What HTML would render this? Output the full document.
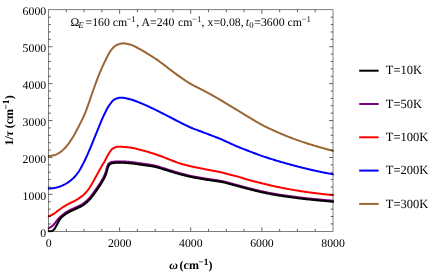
<!DOCTYPE html>
<html><head><meta charset="utf-8"><style>
html,body{margin:0;padding:0;background:#fff;}
svg{display:block;will-change:transform;}
text{font-family:"Liberation Serif";fill:#000;text-rendering:geometricPrecision;}
</style></head><body>
<svg width="436" height="273" viewBox="0 0 436 273">
<defs><filter id="nf" x="0" y="0" width="436" height="273" filterUnits="userSpaceOnUse"><feOffset dx="0" dy="0"/></filter></defs>
<rect width="436" height="273" fill="#fff"/>
<clipPath id="c"><rect x="47.7" y="9.8" width="286.10" height="222.70"/></clipPath>
<g clip-path="url(#c)" fill="none" stroke-linejoin="round" stroke-linecap="square">
<path d="M48.50,228.13 L49.21,227.88 L49.93,227.55 L50.64,227.14 L51.35,226.68 L52.07,226.18 L52.78,225.55 L53.49,224.80 L54.20,224.00 L54.92,223.16 L55.63,222.23 L56.34,221.28 L57.06,220.38 L57.77,219.53 L58.48,218.71 L59.20,217.93 L59.91,217.23 L60.62,216.59 L61.33,215.99 L62.05,215.40 L62.76,214.81 L63.47,214.20 L64.19,213.60 L64.90,213.04 L65.61,212.55 L66.33,212.12 L67.04,211.73 L67.75,211.30 L68.46,210.89 L69.18,210.51 L69.89,210.15 L70.60,209.82 L71.32,209.49 L72.03,209.18 L72.74,208.86 L73.46,208.55 L74.17,208.23 L74.88,207.90 L75.60,207.56 L76.31,207.23 L77.02,206.90 L77.73,206.57 L78.45,206.24 L79.16,205.89 L79.87,205.53 L80.59,205.15 L81.30,204.74 L82.01,204.31 L82.73,203.84 L83.44,203.35 L84.15,202.82 L84.86,202.27 L85.58,201.69 L86.29,201.09 L87.00,200.45 L87.72,199.79 L88.43,199.09 L89.14,198.33 L89.86,197.50 L90.57,196.63 L91.28,195.72 L91.99,194.78 L92.71,193.84 L93.42,192.90 L94.13,191.95 L94.85,190.96 L95.56,189.96 L96.27,188.93 L96.99,187.89 L97.70,186.83 L98.41,185.77 L99.13,184.68 L99.84,183.57 L100.55,182.44 L101.26,181.26 L101.98,180.06 L102.69,178.82 L103.40,177.51 L104.12,176.08 L104.83,174.51 L105.54,172.73 L106.26,170.43 L106.97,167.47 L107.68,165.52 L108.39,164.07 L109.11,163.26 L109.82,162.77 L110.53,162.40 L111.25,162.14 L111.96,161.99 L112.67,161.89 L113.39,161.80 L114.10,161.72 L114.81,161.65 L115.53,161.59 L116.24,161.54 L116.95,161.50 L117.66,161.46 L118.38,161.44 L119.09,161.43 L119.80,161.43 L120.52,161.43 L121.23,161.44 L121.94,161.46 L122.66,161.48 L123.37,161.51 L124.08,161.55 L124.79,161.60 L125.51,161.65 L126.22,161.70 L126.93,161.76 L127.65,161.81 L128.36,161.87 L129.07,161.92 L129.79,161.98 L130.50,162.04 L131.21,162.11 L131.92,162.19 L132.64,162.27 L133.35,162.36 L134.06,162.46 L134.78,162.56 L135.49,162.66 L136.20,162.76 L136.92,162.87 L137.63,162.98 L138.34,163.09 L139.06,163.19 L139.77,163.30 L140.48,163.40 L141.19,163.50 L141.91,163.60 L142.62,163.70 L143.33,163.80 L144.05,163.90 L144.76,163.99 L145.47,164.09 L146.19,164.19 L146.90,164.30 L147.61,164.40 L148.32,164.51 L149.04,164.62 L149.75,164.73 L150.46,164.84 L151.18,164.96 L151.89,165.09 L152.60,165.22 L153.32,165.35 L154.03,165.49 L154.74,165.64 L155.45,165.80 L156.17,165.98 L156.88,166.18 L157.59,166.38 L158.31,166.59 L159.02,166.81 L159.73,167.04 L160.45,167.26 L161.16,167.48 L161.87,167.69 L162.59,167.91 L163.30,168.13 L164.01,168.35 L164.72,168.58 L165.44,168.81 L166.15,169.03 L166.86,169.26 L167.58,169.49 L168.29,169.72 L169.00,169.94 L169.72,170.16 L170.43,170.38 L171.14,170.61 L171.85,170.83 L172.57,171.05 L173.28,171.27 L173.99,171.49 L174.71,171.71 L175.42,171.92 L176.13,172.14 L176.85,172.35 L177.56,172.55 L178.27,172.76 L178.98,172.96 L179.70,173.15 L180.41,173.35 L181.12,173.54 L181.84,173.73 L182.55,173.91 L183.26,174.10 L183.98,174.28 L184.69,174.46 L185.40,174.64 L186.12,174.82 L186.83,174.99 L187.54,175.16 L188.25,175.33 L188.97,175.49 L189.68,175.65 L190.39,175.81 L191.11,175.96 L191.82,176.12 L192.53,176.27 L193.25,176.41 L193.96,176.56 L194.67,176.70 L195.38,176.84 L196.10,176.98 L196.81,177.12 L197.52,177.26 L198.24,177.39 L198.95,177.51 L199.66,177.64 L200.38,177.76 L201.09,177.89 L201.80,178.01 L202.52,178.13 L203.23,178.24 L203.94,178.36 L204.65,178.47 L205.37,178.58 L206.08,178.69 L206.79,178.80 L207.51,178.91 L208.22,179.02 L208.93,179.12 L209.65,179.23 L210.36,179.34 L211.07,179.45 L211.78,179.55 L212.50,179.66 L213.21,179.76 L213.92,179.86 L214.64,179.96 L215.35,180.06 L216.06,180.16 L216.78,180.26 L217.49,180.36 L218.20,180.47 L218.91,180.58 L219.63,180.69 L220.34,180.81 L221.05,180.94 L221.77,181.07 L222.48,181.22 L223.19,181.37 L223.91,181.54 L224.62,181.71 L225.33,181.89 L226.05,182.09 L226.76,182.28 L227.47,182.48 L228.18,182.67 L228.90,182.86 L229.61,183.05 L230.32,183.24 L231.04,183.43 L231.75,183.62 L232.46,183.82 L233.18,184.01 L233.89,184.20 L234.60,184.39 L235.31,184.58 L236.03,184.78 L236.74,184.97 L237.45,185.16 L238.17,185.36 L238.88,185.55 L239.59,185.75 L240.31,185.94 L241.02,186.14 L241.73,186.33 L242.44,186.53 L243.16,186.72 L243.87,186.92 L244.58,187.11 L245.30,187.30 L246.01,187.49 L246.72,187.67 L247.44,187.86 L248.15,188.04 L248.86,188.22 L249.58,188.41 L250.29,188.59 L251.00,188.77 L251.71,188.95 L252.43,189.13 L253.14,189.31 L253.85,189.49 L254.57,189.67 L255.28,189.84 L255.99,190.01 L256.71,190.19 L257.42,190.36 L258.13,190.52 L258.84,190.69 L259.56,190.85 L260.27,191.01 L260.98,191.17 L261.70,191.33 L262.41,191.48 L263.12,191.64 L263.84,191.79 L264.55,191.94 L265.26,192.09 L265.97,192.24 L266.69,192.39 L267.40,192.53 L268.11,192.68 L268.83,192.82 L269.54,192.96 L270.25,193.10 L270.97,193.23 L271.68,193.37 L272.39,193.50 L273.11,193.63 L273.82,193.76 L274.53,193.88 L275.24,194.01 L275.96,194.13 L276.67,194.25 L277.38,194.36 L278.10,194.48 L278.81,194.59 L279.52,194.70 L280.24,194.81 L280.95,194.92 L281.66,195.03 L282.37,195.13 L283.09,195.23 L283.80,195.34 L284.51,195.44 L285.23,195.54 L285.94,195.64 L286.65,195.74 L287.37,195.84 L288.08,195.94 L288.79,196.04 L289.51,196.13 L290.22,196.23 L290.93,196.33 L291.64,196.43 L292.36,196.52 L293.07,196.62 L293.78,196.71 L294.50,196.81 L295.21,196.90 L295.92,197.00 L296.64,197.09 L297.35,197.18 L298.06,197.27 L298.77,197.36 L299.49,197.45 L300.20,197.54 L300.91,197.63 L301.63,197.71 L302.34,197.80 L303.05,197.88 L303.77,197.96 L304.48,198.04 L305.19,198.12 L305.90,198.20 L306.62,198.28 L307.33,198.35 L308.04,198.43 L308.76,198.50 L309.47,198.57 L310.18,198.65 L310.90,198.72 L311.61,198.79 L312.32,198.86 L313.04,198.93 L313.75,199.00 L314.46,199.07 L315.17,199.14 L315.89,199.21 L316.60,199.28 L317.31,199.35 L318.03,199.42 L318.74,199.48 L319.45,199.55 L320.17,199.62 L320.88,199.69 L321.59,199.76 L322.30,199.82 L323.02,199.89 L323.73,199.95 L324.44,200.02 L325.16,200.09 L325.87,200.15 L326.58,200.22 L327.30,200.28 L328.01,200.34 L328.72,200.41 L329.43,200.47 L330.15,200.53 L330.86,200.60 L331.57,200.66 L332.29,200.72 L333.00,200.73" stroke="#800080" stroke-width="2.1"/>
<path d="M48.50,231.30 L49.21,231.30 L49.93,231.30 L50.64,231.30 L51.35,231.25 L52.07,231.00 L52.78,230.60 L53.49,230.03 L54.20,229.28 L54.92,228.28 L55.63,226.97 L56.34,225.69 L57.06,224.38 L57.77,223.05 L58.48,221.73 L59.20,220.44 L59.91,219.31 L60.62,218.32 L61.33,217.53 L62.05,216.89 L62.76,216.29 L63.47,215.68 L64.19,215.11 L64.90,214.59 L65.61,214.11 L66.33,213.66 L67.04,213.22 L67.75,212.79 L68.46,212.36 L69.18,211.95 L69.89,211.58 L70.60,211.23 L71.32,210.90 L72.03,210.57 L72.74,210.26 L73.46,209.94 L74.17,209.63 L74.88,209.31 L75.60,208.98 L76.31,208.64 L77.02,208.31 L77.73,207.98 L78.45,207.65 L79.16,207.31 L79.87,206.97 L80.59,206.60 L81.30,206.21 L82.01,205.80 L82.73,205.36 L83.44,204.89 L84.15,204.39 L84.86,203.86 L85.58,203.30 L86.29,202.72 L87.00,202.11 L87.72,201.47 L88.43,200.80 L89.14,200.09 L89.86,199.31 L90.57,198.47 L91.28,197.59 L91.99,196.67 L92.71,195.74 L93.42,194.80 L94.13,193.86 L94.85,192.89 L95.56,191.90 L96.27,190.89 L96.99,189.86 L97.70,188.82 L98.41,187.76 L99.13,186.69 L99.84,185.61 L100.55,184.49 L101.26,183.35 L101.98,182.16 L102.69,180.96 L103.40,179.71 L104.12,178.38 L104.83,176.92 L105.54,175.32 L106.26,173.48 L106.97,170.97 L107.68,168.12 L108.39,166.33 L109.11,164.99 L109.82,164.30 L110.53,163.83 L111.25,163.48 L111.96,163.24 L112.67,163.11 L113.39,163.01 L114.10,162.92 L114.81,162.85 L115.53,162.78 L116.24,162.72 L116.95,162.68 L117.66,162.65 L118.38,162.64 L119.09,162.64 L119.80,162.64 L120.52,162.66 L121.23,162.68 L121.94,162.70 L122.66,162.73 L123.37,162.77 L124.08,162.81 L124.79,162.85 L125.51,162.90 L126.22,162.95 L126.93,163.00 L127.65,163.06 L128.36,163.11 L129.07,163.17 L129.79,163.22 L130.50,163.28 L131.21,163.34 L131.92,163.41 L132.64,163.49 L133.35,163.57 L134.06,163.66 L134.78,163.76 L135.49,163.86 L136.20,163.96 L136.92,164.07 L137.63,164.17 L138.34,164.28 L139.06,164.39 L139.77,164.49 L140.48,164.60 L141.19,164.70 L141.91,164.80 L142.62,164.90 L143.33,164.99 L144.05,165.09 L144.76,165.19 L145.47,165.29 L146.19,165.39 L146.90,165.49 L147.61,165.59 L148.32,165.69 L149.04,165.80 L149.75,165.91 L150.46,166.02 L151.18,166.14 L151.89,166.26 L152.60,166.38 L153.32,166.51 L154.03,166.65 L154.74,166.79 L155.45,166.94 L156.17,167.10 L156.88,167.28 L157.59,167.48 L158.31,167.69 L159.02,167.90 L159.73,168.12 L160.45,168.34 L161.16,168.56 L161.87,168.78 L162.59,169.00 L163.30,169.21 L164.01,169.43 L164.72,169.66 L165.44,169.88 L166.15,170.11 L166.86,170.33 L167.58,170.56 L168.29,170.78 L169.00,171.00 L169.72,171.22 L170.43,171.43 L171.14,171.65 L171.85,171.87 L172.57,172.09 L173.28,172.30 L173.99,172.52 L174.71,172.73 L175.42,172.95 L176.13,173.16 L176.85,173.36 L177.56,173.57 L178.27,173.77 L178.98,173.97 L179.70,174.16 L180.41,174.35 L181.12,174.54 L181.84,174.72 L182.55,174.91 L183.26,175.09 L183.98,175.27 L184.69,175.45 L185.40,175.62 L186.12,175.80 L186.83,175.96 L187.54,176.13 L188.25,176.30 L188.97,176.46 L189.68,176.62 L190.39,176.77 L191.11,176.92 L191.82,177.07 L192.53,177.22 L193.25,177.36 L193.96,177.51 L194.67,177.65 L195.38,177.79 L196.10,177.92 L196.81,178.06 L197.52,178.19 L198.24,178.32 L198.95,178.45 L199.66,178.57 L200.38,178.70 L201.09,178.82 L201.80,178.94 L202.52,179.06 L203.23,179.18 L203.94,179.30 L204.65,179.41 L205.37,179.52 L206.08,179.63 L206.79,179.74 L207.51,179.85 L208.22,179.96 L208.93,180.07 L209.65,180.17 L210.36,180.28 L211.07,180.39 L211.78,180.49 L212.50,180.60 L213.21,180.71 L213.92,180.81 L214.64,180.91 L215.35,181.00 L216.06,181.10 L216.78,181.20 L217.49,181.30 L218.20,181.40 L218.91,181.51 L219.63,181.62 L220.34,181.74 L221.05,181.86 L221.77,181.98 L222.48,182.12 L223.19,182.27 L223.91,182.43 L224.62,182.59 L225.33,182.76 L226.05,182.95 L226.76,183.14 L227.47,183.34 L228.18,183.53 L228.90,183.72 L229.61,183.91 L230.32,184.10 L231.04,184.30 L231.75,184.49 L232.46,184.68 L233.18,184.87 L233.89,185.06 L234.60,185.25 L235.31,185.44 L236.03,185.64 L236.74,185.83 L237.45,186.02 L238.17,186.21 L238.88,186.41 L239.59,186.60 L240.31,186.80 L241.02,186.99 L241.73,187.19 L242.44,187.38 L243.16,187.58 L243.87,187.77 L244.58,187.96 L245.30,188.16 L246.01,188.34 L246.72,188.53 L247.44,188.72 L248.15,188.90 L248.86,189.08 L249.58,189.27 L250.29,189.45 L251.00,189.63 L251.71,189.81 L252.43,189.99 L253.14,190.17 L253.85,190.35 L254.57,190.53 L255.28,190.70 L255.99,190.88 L256.71,191.05 L257.42,191.22 L258.13,191.39 L258.84,191.56 L259.56,191.72 L260.27,191.89 L260.98,192.05 L261.70,192.20 L262.41,192.36 L263.12,192.51 L263.84,192.67 L264.55,192.82 L265.26,192.97 L265.97,193.12 L266.69,193.27 L267.40,193.41 L268.11,193.56 L268.83,193.70 L269.54,193.84 L270.25,193.98 L270.97,194.12 L271.68,194.25 L272.39,194.39 L273.11,194.52 L273.82,194.65 L274.53,194.78 L275.24,194.90 L275.96,195.02 L276.67,195.14 L277.38,195.26 L278.10,195.38 L278.81,195.49 L279.52,195.60 L280.24,195.71 L280.95,195.82 L281.66,195.93 L282.37,196.03 L283.09,196.14 L283.80,196.24 L284.51,196.34 L285.23,196.45 L285.94,196.55 L286.65,196.65 L287.37,196.75 L288.08,196.84 L288.79,196.94 L289.51,197.04 L290.22,197.14 L290.93,197.23 L291.64,197.33 L292.36,197.43 L293.07,197.52 L293.78,197.62 L294.50,197.72 L295.21,197.81 L295.92,197.90 L296.64,198.00 L297.35,198.09 L298.06,198.18 L298.77,198.27 L299.49,198.36 L300.20,198.45 L300.91,198.53 L301.63,198.62 L302.34,198.71 L303.05,198.79 L303.77,198.87 L304.48,198.95 L305.19,199.03 L305.90,199.11 L306.62,199.19 L307.33,199.27 L308.04,199.34 L308.76,199.42 L309.47,199.49 L310.18,199.56 L310.90,199.63 L311.61,199.71 L312.32,199.78 L313.04,199.85 L313.75,199.92 L314.46,199.99 L315.17,200.06 L315.89,200.12 L316.60,200.19 L317.31,200.26 L318.03,200.33 L318.74,200.40 L319.45,200.47 L320.17,200.53 L320.88,200.60 L321.59,200.67 L322.30,200.73 L323.02,200.80 L323.73,200.87 L324.44,200.93 L325.16,201.00 L325.87,201.06 L326.58,201.13 L327.30,201.19 L328.01,201.26 L328.72,201.32 L329.43,201.38 L330.15,201.45 L330.86,201.51 L331.57,201.57 L332.29,201.63 L333.00,201.69" stroke="#000000" stroke-width="2.1"/>
<path d="M48.50,216.31 L49.21,216.05 L49.93,215.76 L50.64,215.45 L51.35,215.11 L52.07,214.75 L52.78,214.36 L53.49,213.96 L54.20,213.54 L54.92,213.06 L55.63,212.53 L56.34,211.98 L57.06,211.40 L57.77,210.82 L58.48,210.26 L59.20,209.73 L59.91,209.22 L60.62,208.73 L61.33,208.24 L62.05,207.76 L62.76,207.29 L63.47,206.83 L64.19,206.39 L64.90,205.96 L65.61,205.54 L66.33,205.14 L67.04,204.74 L67.75,204.35 L68.46,203.97 L69.18,203.59 L69.89,203.22 L70.60,202.85 L71.32,202.51 L72.03,202.17 L72.74,201.83 L73.46,201.49 L74.17,201.14 L74.88,200.78 L75.60,200.39 L76.31,199.98 L77.02,199.56 L77.73,199.11 L78.45,198.65 L79.16,198.18 L79.87,197.69 L80.59,197.17 L81.30,196.64 L82.01,196.09 L82.73,195.52 L83.44,194.90 L84.15,194.24 L84.86,193.55 L85.58,192.81 L86.29,192.02 L87.00,191.18 L87.72,190.28 L88.43,189.33 L89.14,188.33 L89.86,187.24 L90.57,186.09 L91.28,184.90 L91.99,183.70 L92.71,182.45 L93.42,181.18 L94.13,179.88 L94.85,178.60 L95.56,177.30 L96.27,175.99 L96.99,174.68 L97.70,173.37 L98.41,172.06 L99.13,170.77 L99.84,169.50 L100.55,168.25 L101.26,167.03 L101.98,165.82 L102.69,164.61 L103.40,163.39 L104.12,162.16 L104.83,160.91 L105.54,159.58 L106.26,158.19 L106.97,156.79 L107.68,155.43 L108.39,154.16 L109.11,153.01 L109.82,152.00 L110.53,150.99 L111.25,150.04 L111.96,149.21 L112.67,148.56 L113.39,148.14 L114.10,147.81 L114.81,147.51 L115.53,147.25 L116.24,147.02 L116.95,146.86 L117.66,146.76 L118.38,146.72 L119.09,146.73 L119.80,146.74 L120.52,146.76 L121.23,146.79 L121.94,146.83 L122.66,146.87 L123.37,146.92 L124.08,146.97 L124.79,147.02 L125.51,147.09 L126.22,147.15 L126.93,147.22 L127.65,147.29 L128.36,147.37 L129.07,147.44 L129.79,147.52 L130.50,147.60 L131.21,147.69 L131.92,147.80 L132.64,147.93 L133.35,148.07 L134.06,148.22 L134.78,148.39 L135.49,148.56 L136.20,148.74 L136.92,148.93 L137.63,149.12 L138.34,149.31 L139.06,149.51 L139.77,149.70 L140.48,149.89 L141.19,150.07 L141.91,150.25 L142.62,150.44 L143.33,150.63 L144.05,150.82 L144.76,151.02 L145.47,151.21 L146.19,151.41 L146.90,151.62 L147.61,151.82 L148.32,152.03 L149.04,152.24 L149.75,152.45 L150.46,152.67 L151.18,152.88 L151.89,153.10 L152.60,153.32 L153.32,153.55 L154.03,153.77 L154.74,154.00 L155.45,154.23 L156.17,154.47 L156.88,154.70 L157.59,154.95 L158.31,155.20 L159.02,155.45 L159.73,155.71 L160.45,155.97 L161.16,156.23 L161.87,156.49 L162.59,156.76 L163.30,157.04 L164.01,157.32 L164.72,157.61 L165.44,157.90 L166.15,158.19 L166.86,158.48 L167.58,158.77 L168.29,159.06 L169.00,159.34 L169.72,159.61 L170.43,159.89 L171.14,160.17 L171.85,160.45 L172.57,160.73 L173.28,161.01 L173.99,161.29 L174.71,161.56 L175.42,161.83 L176.13,162.10 L176.85,162.36 L177.56,162.61 L178.27,162.86 L178.98,163.10 L179.70,163.33 L180.41,163.55 L181.12,163.76 L181.84,163.97 L182.55,164.17 L183.26,164.37 L183.98,164.57 L184.69,164.76 L185.40,164.95 L186.12,165.13 L186.83,165.31 L187.54,165.49 L188.25,165.66 L188.97,165.83 L189.68,166.00 L190.39,166.17 L191.11,166.34 L191.82,166.50 L192.53,166.65 L193.25,166.81 L193.96,166.96 L194.67,167.11 L195.38,167.26 L196.10,167.40 L196.81,167.55 L197.52,167.69 L198.24,167.83 L198.95,167.97 L199.66,168.12 L200.38,168.26 L201.09,168.40 L201.80,168.55 L202.52,168.69 L203.23,168.83 L203.94,168.97 L204.65,169.12 L205.37,169.26 L206.08,169.40 L206.79,169.54 L207.51,169.68 L208.22,169.82 L208.93,169.96 L209.65,170.10 L210.36,170.24 L211.07,170.37 L211.78,170.51 L212.50,170.65 L213.21,170.79 L213.92,170.92 L214.64,171.05 L215.35,171.17 L216.06,171.30 L216.78,171.43 L217.49,171.56 L218.20,171.70 L218.91,171.83 L219.63,171.98 L220.34,172.12 L221.05,172.28 L221.77,172.45 L222.48,172.63 L223.19,172.82 L223.91,173.02 L224.62,173.22 L225.33,173.41 L226.05,173.61 L226.76,173.81 L227.47,174.00 L228.18,174.19 L228.90,174.38 L229.61,174.56 L230.32,174.74 L231.04,174.91 L231.75,175.08 L232.46,175.25 L233.18,175.41 L233.89,175.58 L234.60,175.76 L235.31,175.93 L236.03,176.12 L236.74,176.30 L237.45,176.50 L238.17,176.70 L238.88,176.91 L239.59,177.13 L240.31,177.34 L241.02,177.57 L241.73,177.79 L242.44,178.02 L243.16,178.25 L243.87,178.47 L244.58,178.70 L245.30,178.92 L246.01,179.14 L246.72,179.35 L247.44,179.56 L248.15,179.76 L248.86,179.95 L249.58,180.15 L250.29,180.34 L251.00,180.54 L251.71,180.73 L252.43,180.92 L253.14,181.10 L253.85,181.29 L254.57,181.47 L255.28,181.66 L255.99,181.84 L256.71,182.02 L257.42,182.20 L258.13,182.38 L258.84,182.56 L259.56,182.74 L260.27,182.91 L260.98,183.09 L261.70,183.26 L262.41,183.44 L263.12,183.61 L263.84,183.79 L264.55,183.96 L265.26,184.14 L265.97,184.31 L266.69,184.48 L267.40,184.65 L268.11,184.82 L268.83,184.99 L269.54,185.16 L270.25,185.33 L270.97,185.49 L271.68,185.65 L272.39,185.82 L273.11,185.98 L273.82,186.14 L274.53,186.29 L275.24,186.45 L275.96,186.60 L276.67,186.75 L277.38,186.90 L278.10,187.05 L278.81,187.20 L279.52,187.34 L280.24,187.49 L280.95,187.63 L281.66,187.77 L282.37,187.91 L283.09,188.05 L283.80,188.19 L284.51,188.33 L285.23,188.46 L285.94,188.60 L286.65,188.73 L287.37,188.86 L288.08,188.99 L288.79,189.12 L289.51,189.25 L290.22,189.38 L290.93,189.51 L291.64,189.63 L292.36,189.76 L293.07,189.88 L293.78,190.01 L294.50,190.13 L295.21,190.25 L295.92,190.37 L296.64,190.49 L297.35,190.61 L298.06,190.72 L298.77,190.84 L299.49,190.95 L300.20,191.07 L300.91,191.18 L301.63,191.29 L302.34,191.40 L303.05,191.51 L303.77,191.61 L304.48,191.72 L305.19,191.82 L305.90,191.92 L306.62,192.02 L307.33,192.12 L308.04,192.21 L308.76,192.31 L309.47,192.41 L310.18,192.50 L310.90,192.59 L311.61,192.69 L312.32,192.78 L313.04,192.87 L313.75,192.96 L314.46,193.05 L315.17,193.13 L315.89,193.22 L316.60,193.31 L317.31,193.39 L318.03,193.48 L318.74,193.57 L319.45,193.65 L320.17,193.74 L320.88,193.82 L321.59,193.90 L322.30,193.99 L323.02,194.07 L323.73,194.15 L324.44,194.23 L325.16,194.31 L325.87,194.39 L326.58,194.47 L327.30,194.55 L328.01,194.63 L328.72,194.71 L329.43,194.78 L330.15,194.86 L330.86,194.94 L331.57,195.01 L332.29,195.09 L333.00,195.16" stroke="#ff0000" stroke-width="2.0"/>
<path d="M48.50,188.48 L49.21,188.47 L49.93,188.43 L50.64,188.38 L51.35,188.32 L52.07,188.25 L52.78,188.16 L53.49,188.08 L54.20,187.98 L54.92,187.86 L55.63,187.71 L56.34,187.54 L57.06,187.34 L57.77,187.14 L58.48,186.92 L59.20,186.70 L59.91,186.46 L60.62,186.20 L61.33,185.93 L62.05,185.63 L62.76,185.32 L63.47,184.98 L64.19,184.63 L64.90,184.27 L65.61,183.89 L66.33,183.48 L67.04,183.05 L67.75,182.58 L68.46,182.10 L69.18,181.58 L69.89,181.04 L70.60,180.48 L71.32,179.89 L72.03,179.27 L72.74,178.63 L73.46,177.94 L74.17,177.22 L74.88,176.45 L75.60,175.65 L76.31,174.81 L77.02,173.92 L77.73,172.99 L78.45,172.01 L79.16,170.93 L79.87,169.74 L80.59,168.48 L81.30,167.17 L82.01,165.84 L82.73,164.51 L83.44,163.14 L84.15,161.73 L84.86,160.27 L85.58,158.77 L86.29,157.22 L87.00,155.65 L87.72,154.04 L88.43,152.41 L89.14,150.76 L89.86,149.10 L90.57,147.42 L91.28,145.71 L91.99,143.98 L92.71,142.22 L93.42,140.45 L94.13,138.67 L94.85,136.89 L95.56,135.12 L96.27,133.36 L96.99,131.61 L97.70,129.87 L98.41,128.09 L99.13,126.31 L99.84,124.52 L100.55,122.76 L101.26,121.03 L101.98,119.35 L102.69,117.74 L103.40,116.20 L104.12,114.73 L104.83,113.26 L105.54,111.83 L106.26,110.43 L106.97,109.08 L107.68,107.80 L108.39,106.60 L109.11,105.50 L109.82,104.49 L110.53,103.53 L111.25,102.58 L111.96,101.68 L112.67,100.87 L113.39,100.19 L114.10,99.65 L114.81,99.29 L115.53,98.98 L116.24,98.68 L116.95,98.41 L117.66,98.17 L118.38,97.97 L119.09,97.81 L119.80,97.69 L120.52,97.63 L121.23,97.63 L121.94,97.66 L122.66,97.72 L123.37,97.80 L124.08,97.91 L124.79,98.03 L125.51,98.17 L126.22,98.33 L126.93,98.49 L127.65,98.67 L128.36,98.84 L129.07,99.02 L129.79,99.20 L130.50,99.37 L131.21,99.56 L131.92,99.76 L132.64,99.98 L133.35,100.22 L134.06,100.47 L134.78,100.72 L135.49,100.99 L136.20,101.27 L136.92,101.55 L137.63,101.84 L138.34,102.13 L139.06,102.42 L139.77,102.71 L140.48,103.00 L141.19,103.29 L141.91,103.58 L142.62,103.88 L143.33,104.18 L144.05,104.49 L144.76,104.80 L145.47,105.11 L146.19,105.43 L146.90,105.75 L147.61,106.08 L148.32,106.40 L149.04,106.74 L149.75,107.07 L150.46,107.40 L151.18,107.74 L151.89,108.08 L152.60,108.42 L153.32,108.76 L154.03,109.10 L154.74,109.45 L155.45,109.79 L156.17,110.14 L156.88,110.49 L157.59,110.85 L158.31,111.21 L159.02,111.57 L159.73,111.93 L160.45,112.30 L161.16,112.66 L161.87,113.02 L162.59,113.38 L163.30,113.75 L164.01,114.11 L164.72,114.47 L165.44,114.83 L166.15,115.19 L166.86,115.56 L167.58,115.92 L168.29,116.28 L169.00,116.65 L169.72,117.01 L170.43,117.38 L171.14,117.75 L171.85,118.13 L172.57,118.50 L173.28,118.87 L173.99,119.25 L174.71,119.62 L175.42,120.00 L176.13,120.37 L176.85,120.74 L177.56,121.11 L178.27,121.48 L178.98,121.84 L179.70,122.20 L180.41,122.56 L181.12,122.92 L181.84,123.28 L182.55,123.64 L183.26,124.00 L183.98,124.36 L184.69,124.72 L185.40,125.07 L186.12,125.42 L186.83,125.77 L187.54,126.11 L188.25,126.45 L188.97,126.78 L189.68,127.10 L190.39,127.41 L191.11,127.72 L191.82,128.01 L192.53,128.30 L193.25,128.58 L193.96,128.86 L194.67,129.13 L195.38,129.40 L196.10,129.66 L196.81,129.92 L197.52,130.18 L198.24,130.44 L198.95,130.71 L199.66,130.97 L200.38,131.23 L201.09,131.50 L201.80,131.77 L202.52,132.04 L203.23,132.31 L203.94,132.58 L204.65,132.85 L205.37,133.12 L206.08,133.39 L206.79,133.66 L207.51,133.93 L208.22,134.21 L208.93,134.48 L209.65,134.75 L210.36,135.02 L211.07,135.29 L211.78,135.57 L212.50,135.84 L213.21,136.12 L213.92,136.39 L214.64,136.66 L215.35,136.93 L216.06,137.20 L216.78,137.47 L217.49,137.74 L218.20,138.02 L218.91,138.30 L219.63,138.59 L220.34,138.88 L221.05,139.18 L221.77,139.49 L222.48,139.82 L223.19,140.15 L223.91,140.49 L224.62,140.82 L225.33,141.14 L226.05,141.47 L226.76,141.79 L227.47,142.11 L228.18,142.43 L228.90,142.76 L229.61,143.08 L230.32,143.41 L231.04,143.74 L231.75,144.06 L232.46,144.39 L233.18,144.71 L233.89,145.04 L234.60,145.36 L235.31,145.67 L236.03,145.98 L236.74,146.29 L237.45,146.59 L238.17,146.89 L238.88,147.18 L239.59,147.47 L240.31,147.75 L241.02,148.04 L241.73,148.32 L242.44,148.60 L243.16,148.87 L243.87,149.15 L244.58,149.42 L245.30,149.70 L246.01,149.97 L246.72,150.24 L247.44,150.52 L248.15,150.79 L248.86,151.07 L249.58,151.34 L250.29,151.62 L251.00,151.89 L251.71,152.16 L252.43,152.44 L253.14,152.71 L253.85,152.98 L254.57,153.25 L255.28,153.52 L255.99,153.79 L256.71,154.06 L257.42,154.32 L258.13,154.58 L258.84,154.84 L259.56,155.10 L260.27,155.35 L260.98,155.61 L261.70,155.85 L262.41,156.10 L263.12,156.34 L263.84,156.59 L264.55,156.83 L265.26,157.07 L265.97,157.30 L266.69,157.54 L267.40,157.77 L268.11,158.00 L268.83,158.23 L269.54,158.46 L270.25,158.69 L270.97,158.91 L271.68,159.13 L272.39,159.36 L273.11,159.58 L273.82,159.80 L274.53,160.02 L275.24,160.23 L275.96,160.45 L276.67,160.67 L277.38,160.88 L278.10,161.09 L278.81,161.30 L279.52,161.51 L280.24,161.72 L280.95,161.93 L281.66,162.13 L282.37,162.34 L283.09,162.54 L283.80,162.75 L284.51,162.95 L285.23,163.15 L285.94,163.35 L286.65,163.55 L287.37,163.74 L288.08,163.94 L288.79,164.14 L289.51,164.33 L290.22,164.53 L290.93,164.72 L291.64,164.91 L292.36,165.10 L293.07,165.30 L293.78,165.49 L294.50,165.68 L295.21,165.87 L295.92,166.05 L296.64,166.24 L297.35,166.43 L298.06,166.61 L298.77,166.80 L299.49,166.98 L300.20,167.16 L300.91,167.34 L301.63,167.52 L302.34,167.70 L303.05,167.88 L303.77,168.05 L304.48,168.23 L305.19,168.40 L305.90,168.57 L306.62,168.75 L307.33,168.92 L308.04,169.09 L308.76,169.25 L309.47,169.42 L310.18,169.59 L310.90,169.75 L311.61,169.92 L312.32,170.08 L313.04,170.24 L313.75,170.40 L314.46,170.56 L315.17,170.72 L315.89,170.88 L316.60,171.03 L317.31,171.18 L318.03,171.34 L318.74,171.49 L319.45,171.64 L320.17,171.79 L320.88,171.93 L321.59,172.08 L322.30,172.22 L323.02,172.37 L323.73,172.51 L324.44,172.65 L325.16,172.79 L325.87,172.93 L326.58,173.07 L327.30,173.21 L328.01,173.35 L328.72,173.48 L329.43,173.61 L330.15,173.75 L330.86,173.88 L331.57,174.01 L332.29,174.14 L333.00,174.26" stroke="#0000ff" stroke-width="2.0"/>
<path d="M48.50,155.99 L49.21,155.97 L49.93,155.92 L50.64,155.84 L51.35,155.73 L52.07,155.61 L52.78,155.47 L53.49,155.32 L54.20,155.17 L54.92,154.96 L55.63,154.69 L56.34,154.39 L57.06,154.04 L57.77,153.67 L58.48,153.27 L59.20,152.85 L59.91,152.41 L60.62,151.91 L61.33,151.36 L62.05,150.76 L62.76,150.12 L63.47,149.44 L64.19,148.73 L64.90,148.00 L65.61,147.24 L66.33,146.46 L67.04,145.62 L67.75,144.73 L68.46,143.79 L69.18,142.81 L69.89,141.79 L70.60,140.74 L71.32,139.67 L72.03,138.57 L72.74,137.44 L73.46,136.25 L74.17,135.01 L74.88,133.73 L75.60,132.42 L76.31,131.07 L77.02,129.71 L77.73,128.33 L78.45,126.94 L79.16,125.55 L79.87,124.16 L80.59,122.75 L81.30,121.33 L82.01,119.88 L82.73,118.39 L83.44,116.86 L84.15,115.27 L84.86,113.63 L85.58,111.90 L86.29,110.07 L87.00,108.16 L87.72,106.17 L88.43,104.13 L89.14,102.06 L89.86,99.96 L90.57,97.86 L91.28,95.77 L91.99,93.71 L92.71,91.70 L93.42,89.72 L94.13,87.74 L94.85,85.74 L95.56,83.76 L96.27,81.80 L96.99,79.87 L97.70,78.00 L98.41,76.18 L99.13,74.43 L99.84,72.70 L100.55,71.01 L101.26,69.35 L101.98,67.72 L102.69,66.14 L103.40,64.59 L104.12,63.08 L104.83,61.62 L105.54,60.19 L106.26,58.73 L106.97,57.29 L107.68,55.87 L108.39,54.50 L109.11,53.20 L109.82,51.99 L110.53,50.90 L111.25,49.94 L111.96,49.10 L112.67,48.30 L113.39,47.54 L114.10,46.84 L114.81,46.23 L115.53,45.70 L116.24,45.29 L116.95,44.97 L117.66,44.66 L118.38,44.38 L119.09,44.11 L119.80,43.88 L120.52,43.68 L121.23,43.52 L121.94,43.41 L122.66,43.36 L123.37,43.37 L124.08,43.41 L124.79,43.48 L125.51,43.58 L126.22,43.70 L126.93,43.84 L127.65,44.00 L128.36,44.17 L129.07,44.34 L129.79,44.52 L130.50,44.70 L131.21,44.91 L131.92,45.15 L132.64,45.42 L133.35,45.72 L134.06,46.04 L134.78,46.38 L135.49,46.74 L136.20,47.12 L136.92,47.50 L137.63,47.89 L138.34,48.29 L139.06,48.69 L139.77,49.09 L140.48,49.48 L141.19,49.87 L141.91,50.26 L142.62,50.67 L143.33,51.09 L144.05,51.52 L144.76,51.96 L145.47,52.40 L146.19,52.85 L146.90,53.29 L147.61,53.74 L148.32,54.18 L149.04,54.62 L149.75,55.06 L150.46,55.50 L151.18,55.95 L151.89,56.39 L152.60,56.85 L153.32,57.30 L154.03,57.76 L154.74,58.23 L155.45,58.71 L156.17,59.19 L156.88,59.69 L157.59,60.18 L158.31,60.69 L159.02,61.20 L159.73,61.71 L160.45,62.23 L161.16,62.75 L161.87,63.27 L162.59,63.80 L163.30,64.33 L164.01,64.88 L164.72,65.42 L165.44,65.97 L166.15,66.53 L166.86,67.08 L167.58,67.64 L168.29,68.19 L169.00,68.74 L169.72,69.28 L170.43,69.83 L171.14,70.37 L171.85,70.91 L172.57,71.45 L173.28,71.99 L173.99,72.53 L174.71,73.07 L175.42,73.59 L176.13,74.12 L176.85,74.64 L177.56,75.15 L178.27,75.66 L178.98,76.17 L179.70,76.68 L180.41,77.18 L181.12,77.68 L181.84,78.17 L182.55,78.65 L183.26,79.14 L183.98,79.61 L184.69,80.09 L185.40,80.56 L186.12,81.04 L186.83,81.50 L187.54,81.96 L188.25,82.42 L188.97,82.86 L189.68,83.30 L190.39,83.72 L191.11,84.13 L191.82,84.53 L192.53,84.92 L193.25,85.31 L193.96,85.68 L194.67,86.05 L195.38,86.41 L196.10,86.77 L196.81,87.13 L197.52,87.49 L198.24,87.84 L198.95,88.20 L199.66,88.56 L200.38,88.92 L201.09,89.29 L201.80,89.67 L202.52,90.04 L203.23,90.42 L203.94,90.79 L204.65,91.16 L205.37,91.54 L206.08,91.91 L206.79,92.29 L207.51,92.67 L208.22,93.05 L208.93,93.43 L209.65,93.81 L210.36,94.20 L211.07,94.59 L211.78,94.98 L212.50,95.38 L213.21,95.78 L213.92,96.19 L214.64,96.60 L215.35,97.01 L216.06,97.42 L216.78,97.84 L217.49,98.26 L218.20,98.68 L218.91,99.10 L219.63,99.53 L220.34,99.95 L221.05,100.37 L221.77,100.80 L222.48,101.23 L223.19,101.66 L223.91,102.09 L224.62,102.52 L225.33,102.95 L226.05,103.39 L226.76,103.82 L227.47,104.26 L228.18,104.69 L228.90,105.12 L229.61,105.55 L230.32,105.98 L231.04,106.41 L231.75,106.83 L232.46,107.26 L233.18,107.68 L233.89,108.10 L234.60,108.53 L235.31,108.95 L236.03,109.38 L236.74,109.81 L237.45,110.24 L238.17,110.67 L238.88,111.11 L239.59,111.55 L240.31,111.99 L241.02,112.43 L241.73,112.87 L242.44,113.31 L243.16,113.75 L243.87,114.19 L244.58,114.63 L245.30,115.06 L246.01,115.50 L246.72,115.93 L247.44,116.36 L248.15,116.79 L248.86,117.22 L249.58,117.65 L250.29,118.08 L251.00,118.51 L251.71,118.94 L252.43,119.37 L253.14,119.80 L253.85,120.23 L254.57,120.65 L255.28,121.08 L255.99,121.50 L256.71,121.91 L257.42,122.33 L258.13,122.74 L258.84,123.14 L259.56,123.54 L260.27,123.93 L260.98,124.32 L261.70,124.70 L262.41,125.08 L263.12,125.45 L263.84,125.81 L264.55,126.18 L265.26,126.53 L265.97,126.89 L266.69,127.24 L267.40,127.59 L268.11,127.94 L268.83,128.28 L269.54,128.62 L270.25,128.95 L270.97,129.29 L271.68,129.62 L272.39,129.95 L273.11,130.28 L273.82,130.60 L274.53,130.92 L275.24,131.24 L275.96,131.56 L276.67,131.88 L277.38,132.19 L278.10,132.51 L278.81,132.82 L279.52,133.13 L280.24,133.43 L280.95,133.74 L281.66,134.04 L282.37,134.34 L283.09,134.64 L283.80,134.93 L284.51,135.23 L285.23,135.52 L285.94,135.81 L286.65,136.09 L287.37,136.38 L288.08,136.66 L288.79,136.94 L289.51,137.22 L290.22,137.49 L290.93,137.76 L291.64,138.03 L292.36,138.30 L293.07,138.57 L293.78,138.83 L294.50,139.09 L295.21,139.36 L295.92,139.61 L296.64,139.87 L297.35,140.12 L298.06,140.38 L298.77,140.63 L299.49,140.88 L300.20,141.12 L300.91,141.37 L301.63,141.61 L302.34,141.85 L303.05,142.09 L303.77,142.33 L304.48,142.57 L305.19,142.80 L305.90,143.03 L306.62,143.26 L307.33,143.49 L308.04,143.72 L308.76,143.94 L309.47,144.16 L310.18,144.39 L310.90,144.61 L311.61,144.82 L312.32,145.04 L313.04,145.26 L313.75,145.47 L314.46,145.68 L315.17,145.89 L315.89,146.10 L316.60,146.31 L317.31,146.52 L318.03,146.73 L318.74,146.94 L319.45,147.14 L320.17,147.34 L320.88,147.55 L321.59,147.75 L322.30,147.95 L323.02,148.15 L323.73,148.35 L324.44,148.55 L325.16,148.74 L325.87,148.94 L326.58,149.13 L327.30,149.32 L328.01,149.52 L328.72,149.71 L329.43,149.89 L330.15,150.08 L330.86,150.27 L331.57,150.45 L332.29,150.64 L333.00,150.82" stroke="#996633" stroke-width="2.0"/>
</g>
<path d="M66.28,231.3 v-2.4 M66.28,9.8 v2.4 M84.06,231.3 v-2.4 M84.06,9.8 v2.4 M101.84,231.3 v-2.4 M101.84,9.8 v2.4 M119.62,231.3 v-4.0 M119.62,9.8 v4.0 M137.41,231.3 v-2.4 M137.41,9.8 v2.4 M155.19,231.3 v-2.4 M155.19,9.8 v2.4 M172.97,231.3 v-2.4 M172.97,9.8 v2.4 M190.75,231.3 v-4.0 M190.75,9.8 v4.0 M208.53,231.3 v-2.4 M208.53,9.8 v2.4 M226.31,231.3 v-2.4 M226.31,9.8 v2.4 M244.09,231.3 v-2.4 M244.09,9.8 v2.4 M261.88,231.3 v-4.0 M261.88,9.8 v4.0 M279.66,231.3 v-2.4 M279.66,9.8 v2.4 M297.44,231.3 v-2.4 M297.44,9.8 v2.4 M315.22,231.3 v-2.4 M315.22,9.8 v2.4 M48.5,223.92 h2.4 M333.0,223.92 h-2.4 M48.5,216.53 h2.4 M333.0,216.53 h-2.4 M48.5,209.15 h2.4 M333.0,209.15 h-2.4 M48.5,201.77 h2.4 M333.0,201.77 h-2.4 M48.5,194.38 h4.0 M333.0,194.38 h-4.0 M48.5,187.00 h2.4 M333.0,187.00 h-2.4 M48.5,179.62 h2.4 M333.0,179.62 h-2.4 M48.5,172.23 h2.4 M333.0,172.23 h-2.4 M48.5,164.85 h2.4 M333.0,164.85 h-2.4 M48.5,157.47 h4.0 M333.0,157.47 h-4.0 M48.5,150.08 h2.4 M333.0,150.08 h-2.4 M48.5,142.70 h2.4 M333.0,142.70 h-2.4 M48.5,135.32 h2.4 M333.0,135.32 h-2.4 M48.5,127.93 h2.4 M333.0,127.93 h-2.4 M48.5,120.55 h4.0 M333.0,120.55 h-4.0 M48.5,113.17 h2.4 M333.0,113.17 h-2.4 M48.5,105.78 h2.4 M333.0,105.78 h-2.4 M48.5,98.40 h2.4 M333.0,98.40 h-2.4 M48.5,91.02 h2.4 M333.0,91.02 h-2.4 M48.5,83.63 h4.0 M333.0,83.63 h-4.0 M48.5,76.25 h2.4 M333.0,76.25 h-2.4 M48.5,68.87 h2.4 M333.0,68.87 h-2.4 M48.5,61.48 h2.4 M333.0,61.48 h-2.4 M48.5,54.10 h2.4 M333.0,54.10 h-2.4 M48.5,46.72 h4.0 M333.0,46.72 h-4.0 M48.5,39.33 h2.4 M333.0,39.33 h-2.4 M48.5,31.95 h2.4 M333.0,31.95 h-2.4 M48.5,24.57 h2.4 M333.0,24.57 h-2.4 M48.5,17.18 h2.4 M333.0,17.18 h-2.4" stroke="#000" stroke-width="0.6" fill="none"/>
<rect x="48.5" y="9.8" width="284.50" height="221.50" stroke="#000" stroke-width="0.5" fill="none"/>
<path d="M359.2,70.70 H378.6" stroke="#000000" stroke-width="2.0"/>
<path d="M359.2,104.00 H378.6" stroke="#800080" stroke-width="2.0"/>
<path d="M359.2,137.30 H378.6" stroke="#ff0000" stroke-width="2.0"/>
<path d="M359.2,170.60 H378.6" stroke="#0000ff" stroke-width="2.0"/>
<path d="M359.2,203.90 H378.6" stroke="#996633" stroke-width="2.0"/>
<g filter="url(#nf)">
<text x="46.2" y="236.70" text-anchor="end" font-size="11.8">0</text>
<text x="46.2" y="199.78" text-anchor="end" font-size="11.8">1000</text>
<text x="46.2" y="162.87" text-anchor="end" font-size="11.8">2000</text>
<text x="46.2" y="125.95" text-anchor="end" font-size="11.8">3000</text>
<text x="46.2" y="89.03" text-anchor="end" font-size="11.8">4000</text>
<text x="46.2" y="52.12" text-anchor="end" font-size="11.8">5000</text>
<text x="46.2" y="15.20" text-anchor="end" font-size="11.8">6000</text>
<text x="48.60" y="246.9" text-anchor="middle" font-size="11.8">0</text>
<text x="119.72" y="246.9" text-anchor="middle" font-size="11.8">2000</text>
<text x="190.85" y="246.9" text-anchor="middle" font-size="11.8">4000</text>
<text x="261.98" y="246.9" text-anchor="middle" font-size="11.8">6000</text>
<text x="333.10" y="246.9" text-anchor="middle" font-size="11.8">8000</text>
<text x="385.8" y="74.40" font-size="12.5">T=10K</text>
<text x="385.8" y="107.70" font-size="12.5">T=50K</text>
<text x="385.8" y="141.00" font-size="12.5">T=100K</text>
<text x="385.8" y="174.30" font-size="12.5">T=200K</text>
<text x="385.8" y="207.60" font-size="12.5">T=300K</text>
<text x="70.5" y="25.6" font-size="11.8">Ω</text>
<text x="78.2" y="27.6" font-size="8.8" font-style="italic">E</text>
<text x="85.4" y="25.6" font-size="11.8">=</text>
<text x="92.2" y="25.6" font-size="11.8">160 cm</text>
<text x="126.4" y="21.700000000000003" font-size="8.8">−1</text>
<text x="136.3" y="25.6" font-size="11.8">, A=240</text>
<text x="177.9" y="25.6" font-size="11.8">cm</text>
<text x="192.1" y="21.700000000000003" font-size="8.8">−1</text>
<text x="201.6" y="25.6" font-size="11.8">, x=0.08,</text>
<text x="245.7" y="25.6" font-size="11.8" font-style="italic">t</text>
<text x="249.3" y="27.6" font-size="8.8">0</text>
<text x="254.3" y="25.6" font-size="11.8">=3600 cm</text>
<text x="301.5" y="21.700000000000003" font-size="8.8">−1</text>
<text x="169.3" y="268.9" font-size="12" font-weight="bold" font-style="italic">ω</text>
<text x="179.6" y="268.9" font-size="12" font-weight="bold">(cm</text>
<text x="198.3" y="264.9" font-size="9.4" font-weight="bold">−1</text>
<text x="208.5" y="268.9" font-size="12" font-weight="bold">)</text>
<g transform="translate(13.2,145.5) rotate(-90)"><text x="0" y="0" font-size="12" font-weight="bold">1/<tspan font-style="italic">τ</tspan></text><text x="17.3" y="0" font-size="12" font-weight="bold">(cm</text><text x="36.0" y="-4.0" font-size="9.4" font-weight="bold">−1</text><text x="46.2" y="0" font-size="12" font-weight="bold">)</text></g>
</g>
</svg>
</body></html>
